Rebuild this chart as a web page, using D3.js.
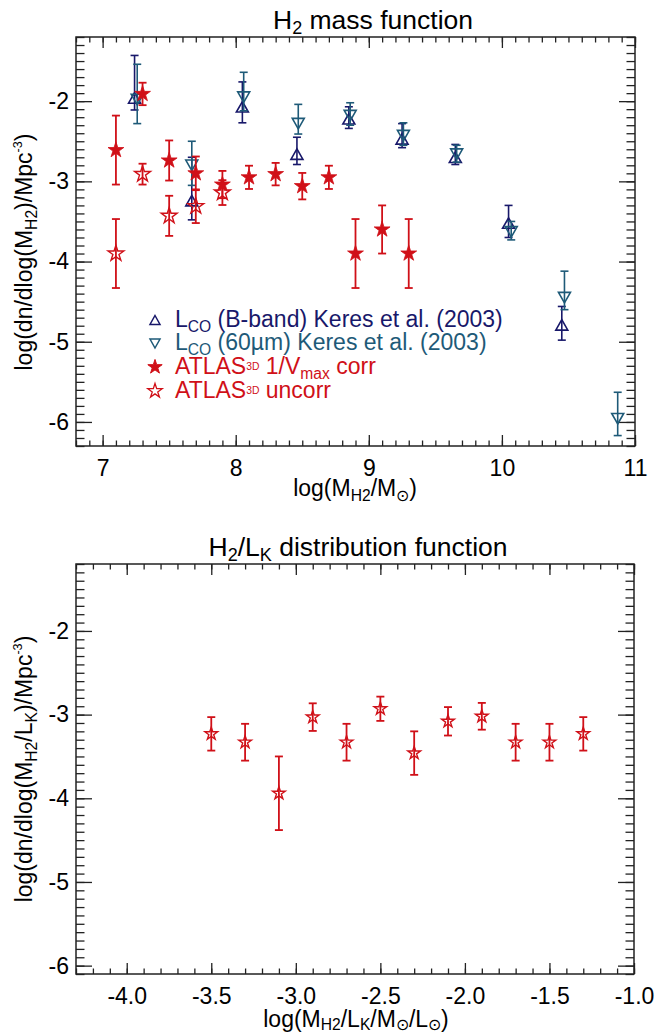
<!DOCTYPE html>
<html>
<head>
<meta charset="utf-8">
<script src="https://cdn.jsdelivr.net/npm/d3@7"></script>
<style>
  html, body { margin: 0; padding: 0; background: #fff; }
  svg { display: block; font-family: "Liberation Sans", Arial, Helvetica, sans-serif; }
</style>
</head>
<body>
<svg id="chart" width="665" height="1034"></svg>
<script>
// ---------------- DATA ----------------
// Top panel: H2 mass function
const massBins      = [7.1, 7.3, 7.5, 7.7, 7.9, 8.1, 8.3, 8.5, 8.7, 8.9, 9.1, 9.3];
const corrValues    = [-2.61, -1.91, -2.74, -2.90, -3.04, -2.95, -2.91, -3.06, -2.95, -3.90, -3.60, -3.90];
const corrErrors    = [0.43, 0.14, 0.25, 0.21, 0.17, 0.145, 0.14, 0.165, 0.145, 0.43, 0.30, 0.43];

const uncorrBins    = [7.1, 7.3, 7.5, 7.7, 7.9];
const uncorrValues  = [-3.90, -2.91, -3.43, -3.31, -3.14];
const uncorrErrors  = [0.43, 0.13, 0.25, 0.21, 0.155];

const bbandMass     = [7.24, 7.67, 8.05, 8.46, 8.85, 9.25, 9.65, 10.05, 10.45];
const bbandValues   = [-1.96, -3.24, -2.07, -2.66, -2.22, -2.47, -2.70, -3.52, -4.79];
const bbandUpper    = [-1.43, -2.70, -1.76, -2.45, -2.07, -2.28, -2.54, -3.30, -4.56];
const bbandLower    = [-2.11, -3.48, -2.27, -2.79, -2.34, -2.58, -2.79, -3.70, -4.98];

const firMass       = [7.26, 7.67, 8.06, 8.47, 8.86, 9.26, 9.66, 10.07, 10.47, 10.87];
const firValues     = [-1.98, -2.80, -1.95, -2.28, -2.18, -2.43, -2.66, -3.63, -4.45, -5.96];
const firUpper      = [-1.54, -2.50, -1.64, -2.04, -2.02, -2.27, -2.55, -3.50, -4.12, -5.63];
const firLower      = [-2.28, -3.05, -2.12, -2.41, -2.30, -2.55, -2.76, -3.73, -4.60, -6.17];

// Bottom panel: H2/LK distribution function
const ratioBins     = [-3.5, -3.3, -3.1, -2.9, -2.7, -2.5, -2.3, -2.1, -1.9, -1.7, -1.5, -1.3];
const ratioValues   = [-3.23, -3.33, -3.94, -3.03, -3.33, -2.93, -3.46, -3.08, -3.02, -3.33, -3.33, -3.23];
const ratioErrors   = [0.20, 0.22, 0.44, 0.165, 0.22, 0.145, 0.26, 0.17, 0.16, 0.22, 0.22, 0.20];

// Tick labels
const topXTicks     = [7, 8, 9, 10, 11];
const topYTicks     = [-2, -3, -4, -5, -6];
const botXTicks     = [-4.0, -3.5, -3.0, -2.5, -2.0, -1.5, -1.0];
const botYTicks     = [-2, -3, -4, -5, -6];

// Legend entries
const legendLabels  = ["bband", "fir", "corr", "uncorr"];

// ---------------- STYLE ----------------
const RED = "#d01018", NAVY = "#18186a", TEAL = "#1e5a78", AXIS = "#222";
const FS = 23, TFS = 26.5;

const svg = d3.select("#chart");
svg.append("rect").attr("width", 665).attr("height", 1034).attr("fill", "#fff");

function rich(text, parts, size, subShift) {
  let shift = 0;
  parts.forEach(p => {
    let target = 0, fs = size;
    if (p.sub) { target = size * (subShift || 0.2); fs = size * 0.68; }
    if (p.sup) { target = -size * (p.up || 0.42); fs = size * (p.scale || 0.55); }
    text.append("tspan").attr("dy", target - shift).attr("font-size", fs).text(p.t);
    shift = target;
  });
  return text;
}

function makePanel(opt) {
  const g = svg.append("g");
  const x = d3.scaleLinear().domain(opt.xDomain).range([opt.left, opt.right]);
  const y = d3.scaleLinear().domain(opt.yDomain).range([opt.bottom, opt.top]);

  const xMinor = d3.range(Math.round(opt.xDomain[0] * 10), Math.round(opt.xDomain[1] * 10) + 1).map(v => v / 10);
  const yMinor = d3.range(Math.round(opt.yDomain[0] * 10), Math.round(opt.yDomain[1] * 10) + 1).map(v => v / 10);

  const style = sel => {
    sel.attr("font-family", null).attr("font-size", null);
    sel.selectAll("path.domain").remove();
    sel.selectAll("line").attr("stroke", AXIS).attr("stroke-width", 1.3);
    sel.selectAll("text").attr("font-size", FS).attr("fill", "#000");
  };
  // minor ticks
  g.append("g").attr("transform", `translate(0,${opt.bottom})`)
    .call(d3.axisBottom(x).tickValues(xMinor).tickSize(-5.5).tickFormat("")).call(style);
  g.append("g").attr("transform", `translate(0,${opt.top})`)
    .call(d3.axisTop(x).tickValues(xMinor).tickSize(-5.5).tickFormat("")).call(style);
  g.append("g").attr("transform", `translate(${opt.left},0)`)
    .call(d3.axisLeft(y).tickValues(yMinor).tickSize(-8.5).tickFormat("")).call(style);
  g.append("g").attr("transform", `translate(${opt.right},0)`)
    .call(d3.axisRight(y).tickValues(yMinor).tickSize(-8.5).tickFormat("")).call(style);
  // major ticks
  g.append("g").attr("transform", `translate(0,${opt.bottom})`)
    .call(d3.axisBottom(x).tickValues(opt.xTicks).tickSize(-11).tickPadding(14).tickFormat(opt.xFmt)).call(style);
  g.append("g").attr("transform", `translate(0,${opt.top})`)
    .call(d3.axisTop(x).tickValues(opt.xTicks).tickSize(-11).tickFormat("")).call(style);
  g.append("g").attr("transform", `translate(${opt.left},0)`)
    .call(d3.axisLeft(y).tickValues(opt.yTicks).tickSize(-16).tickPadding(7).tickFormat(d3.format("d"))).call(style);
  g.append("g").attr("transform", `translate(${opt.right},0)`)
    .call(d3.axisRight(y).tickValues(opt.yTicks).tickSize(-16).tickFormat("")).call(style);
  // frame
  g.append("rect").attr("x", opt.left).attr("y", opt.top)
    .attr("width", opt.right - opt.left).attr("height", opt.bottom - opt.top)
    .attr("fill", "none").attr("stroke", AXIS).attr("stroke-width", 1.5);
  // minus sign as hyphen
  g.selectAll("text").each(function() { const t = d3.select(this); t.text(t.text().replace("\u2212", "-")); });
  return { g, x, y };
}

function triPath(cx, cy, w, h, down) {
  const p = d3.path();
  if (!down) { p.moveTo(cx, cy - h / 2); p.lineTo(cx + w / 2, cy + h / 2); p.lineTo(cx - w / 2, cy + h / 2); }
  else { p.moveTo(cx, cy + h / 2); p.lineTo(cx + w / 2, cy - h / 2); p.lineTo(cx - w / 2, cy - h / 2); }
  p.closePath();
  return p.toString();
}

function errBars(g, xs, tops, bots, px, py, color, sw) {
  const eg = g.append("g").attr("stroke", color).attr("stroke-width", sw).attr("fill", "none");
  xs.forEach((xv, i) => {
    const X = px(xv), T = py(tops[i]), B = py(bots[i]);
    eg.append("line").attr("x1", X).attr("x2", X).attr("y1", T).attr("y2", B);
    eg.append("line").attr("x1", X - 4).attr("x2", X + 4).attr("y1", T).attr("y2", T);
    eg.append("line").attr("x1", X - 4).attr("x2", X + 4).attr("y1", B).attr("y2", B);
  });
}

const star = d3.symbol().type(d3.symbolStar);

// ---------------- TOP PANEL ----------------
const topPanel = makePanel({
  left: 76, right: 635, top: 37, bottom: 446,
  xDomain: [6.8, 11.0], yDomain: [-6.3, -1.2],
  xTicks: topXTicks, yTicks: topYTicks, xFmt: d3.format("d")
});
{
  const { g, x, y } = topPanel;
  // Keres B-band
  errBars(g, bbandMass, bbandUpper, bbandLower, x, y, NAVY, 1.6);
  g.append("g").selectAll("path").data(bbandMass).join("path")
    .attr("d", (d, i) => triPath(x(d), y(bbandValues[i]), 12, 10.5, false))
    .attr("fill", "none").attr("stroke", NAVY).attr("stroke-width", 1.6);
  // Keres 60um
  errBars(g, firMass, firUpper, firLower, x, y, TEAL, 1.6);
  g.append("g").selectAll("path").data(firMass).join("path")
    .attr("d", (d, i) => triPath(x(d), y(firValues[i]), 12, 10.5, true))
    .attr("fill", "none").attr("stroke", TEAL).attr("stroke-width", 1.6);
  // ATLAS uncorr
  errBars(g, uncorrBins, uncorrValues.map((v, i) => v + uncorrErrors[i]), uncorrValues.map((v, i) => v - uncorrErrors[i]), x, y, RED, 1.8);
  g.append("g").selectAll("path").data(uncorrBins).join("path")
    .attr("transform", (d, i) => `translate(${x(d)},${y(uncorrValues[i])})`)
    .attr("d", star.size(78)).attr("fill", "none").attr("stroke", RED).attr("stroke-width", 1.4);
  // ATLAS corr
  errBars(g, massBins, corrValues.map((v, i) => v + corrErrors[i]), corrValues.map((v, i) => v - corrErrors[i]), x, y, RED, 1.8);
  g.append("g").selectAll("path").data(massBins).join("path")
    .attr("transform", (d, i) => `translate(${x(d)},${y(corrValues[i])})`)
    .attr("d", star.size(78)).attr("fill", RED).attr("stroke", RED).attr("stroke-width", 0.8);

  // legend
  const lg = g.append("g");
  const rowsY = [320, 343.5, 367, 391];
  const textY = [327, 350, 374, 398];
  legendLabels.forEach((k, i) => {
    const cx = 155, cy = rowsY[i];
    if (k === "bband") lg.append("path").attr("d", triPath(cx, cy, 10, 9, false)).attr("fill", "none").attr("stroke", NAVY).attr("stroke-width", 1.5);
    if (k === "fir") lg.append("path").attr("d", triPath(cx, cy, 10, 9, true)).attr("fill", "none").attr("stroke", TEAL).attr("stroke-width", 1.5);
    if (k === "corr") lg.append("path").attr("transform", `translate(${cx},${cy})`).attr("d", star.size(64)).attr("fill", RED).attr("stroke", RED);
    if (k === "uncorr") lg.append("path").attr("transform", `translate(${cx},${cy})`).attr("d", star.size(64)).attr("fill", "none").attr("stroke", RED).attr("stroke-width", 1.3);
    const t = lg.append("text").attr("x", 175).attr("y", textY[i]).attr("font-size", FS);
    if (k === "bband") rich(t.attr("fill", NAVY), [{ t: "L" }, { t: "CO", sub: true }, { t: " (B-band) Keres et al. (2003)" }], FS);
    if (k === "fir") rich(t.attr("fill", TEAL), [{ t: "L" }, { t: "CO", sub: true }, { t: " (60\u00b5m) Keres et al. (2003)" }], FS);
    if (k === "corr") rich(t.attr("fill", RED), [{ t: "ATLAS" }, { t: "3D", sup: true, up: 0.17, scale: 0.45 }, { t: " 1/V" }, { t: "max", sub: true }, { t: " corr" }], FS);
    if (k === "uncorr") rich(t.attr("fill", RED), [{ t: "ATLAS" }, { t: "3D", sup: true, up: 0.17, scale: 0.45 }, { t: " uncorr" }], FS);
  });

  // titles & labels
  rich(svg.append("text").attr("x", 373).attr("y", 29).attr("text-anchor", "middle").attr("font-size", TFS),
    [{ t: "H" }, { t: "2", sub: true }, { t: " mass function" }], TFS);
  rich(svg.append("text").attr("x", 355).attr("y", 496).attr("text-anchor", "middle").attr("font-size", FS),
    [{ t: "log(M" }, { t: "H2", sub: true }, { t: "/M" }, { t: "\u2299", sub: true }, { t: ")" }], FS);
  rich(svg.append("text").attr("transform", "translate(32,252) rotate(-90)").attr("text-anchor", "middle").attr("font-size", FS),
    [{ t: "log(dn/dlog(M" }, { t: "H2", sub: true }, { t: ")/Mpc" }, { t: "-3", sup: true }, { t: ")" }], FS);
}

// ---------------- BOTTOM PANEL ----------------
const botPanel = makePanel({
  left: 76, right: 634, top: 564, bottom: 974,
  xDomain: [-4.3, -1.0], yDomain: [-6.1, -1.2],
  xTicks: botXTicks, yTicks: botYTicks, xFmt: d3.format(".1f")
});
{
  const { g, x, y } = botPanel;
  errBars(g, ratioBins, ratioValues.map((v, i) => v + ratioErrors[i]), ratioValues.map((v, i) => v - ratioErrors[i]), x, y, RED, 1.8);
  g.append("g").selectAll("path").data(ratioBins).join("path")
    .attr("transform", (d, i) => `translate(${x(d)},${y(ratioValues[i])})`)
    .attr("d", star.size(50)).attr("fill", "none").attr("stroke", RED).attr("stroke-width", 1.4);

  rich(svg.append("text").attr("x", 358).attr("y", 556).attr("text-anchor", "middle").attr("font-size", TFS),
    [{ t: "H" }, { t: "2", sub: true }, { t: "/L" }, { t: "K", sub: true }, { t: " distribution function" }], TFS);
  rich(svg.append("text").attr("x", 356).attr("y", 1027).attr("text-anchor", "middle").attr("font-size", FS),
    [{ t: "log(M" }, { t: "H2", sub: true }, { t: "/L" }, { t: "K", sub: true }, { t: "/M" }, { t: "\u2299", sub: true }, { t: "/L" }, { t: "\u2299", sub: true }, { t: ")" }], FS, 0.13);
  rich(svg.append("text").attr("transform", "translate(32,769) rotate(-90)").attr("text-anchor", "middle").attr("font-size", FS),
    [{ t: "log(dn/dlog(M" }, { t: "H2", sub: true }, { t: "/L" }, { t: "K", sub: true }, { t: ")/Mpc" }, { t: "-3", sup: true }, { t: ")" }], FS);
}
</script>
</body>
</html>
